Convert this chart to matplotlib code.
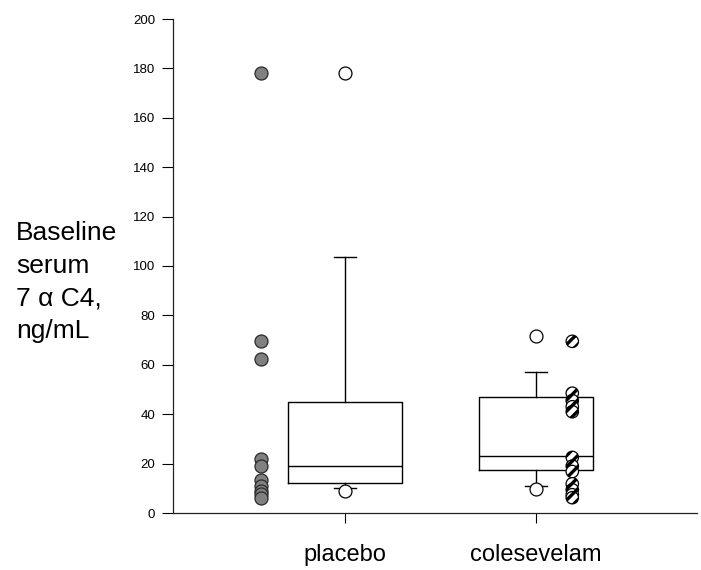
import matplotlib
matplotlib.use("Agg")
import matplotlib.pyplot as plt

plt.rcParams['font.family'] = ['Liberation Sans', 'DejaVu Sans']
plt.rcParams['hatch.linewidth'] = 2.4

categories = ["placebo", "colesevelam"]
yticks = [0, 20, 40, 60, 80, 100, 120, 140, 160, 180, 200]

# box statistics
box_q1 = [12, 17.3]
box_med = [19, 23]
box_q3 = [45, 47]
whisk_lo = [10.2, 11.1]
whisk_hi = [103.5, 57]
fliers = [[178, 9.0], [71.5, 9.8]]

# individual values
placebo_vals = [178, 69.5, 62.5, 21.7, 19.0, 13.4, 11.0, 9.0, 7.6, 6.0]
colesevelam_vals = [69.5, 48.5, 45.5, 43, 41, 22.5, 19.0, 16.8, 11.8, 9.4, 7.4, 6.2]

fig = plt.figure(figsize=(7.01, 5.70), dpi=100)
ax = fig.add_axes([173/701, 1-513/570, (697-173)/701, (513-19)/570])

pos = [1, 2]
stats = []
for i in range(2):
    stats.append(dict(med=box_med[i], q1=box_q1[i], q3=box_q3[i],
                      whislo=whisk_lo[i], whishi=whisk_hi[i], fliers=fliers[i]))
ax.bxp(stats, positions=pos, widths=0.6, showfliers=True, patch_artist=False,
       boxprops=dict(color='black', linewidth=1.0),
       medianprops=dict(color='black', linewidth=1.0),
       whiskerprops=dict(color='black', linewidth=1.0),
       capprops=dict(color='black', linewidth=1.0),
       capwidths=0.115,
       flierprops=dict(marker='o', markersize=9.3, markerfacecolor='white',
                       markeredgecolor='black', markeredgewidth=0.9))

ax.scatter([0.56]*len(placebo_vals), placebo_vals, s=88, facecolor='#808080',
           edgecolor='#2a2a2a', linewidth=0.9, zorder=3)
ax.scatter([2.19]*len(colesevelam_vals), colesevelam_vals, s=80, facecolor='white',
           edgecolor='black', hatch='///', linewidth=0.9, zorder=3)

ax.set_xlim(0.0995, 2.843)
ax.set_ylim(0, 200)
ax.set_yticks(yticks)
ax.set_yticklabels([str(t) for t in yticks])
ax.set_xticks(pos)
ax.set_xticklabels(categories, fontsize=17)
ax.tick_params(axis='y', direction='out', length=8, width=0.8, labelsize=9.5, pad=5)
ax.tick_params(axis='x', direction='out', length=7.5, width=0.8, pad=15)
for s in ['top', 'right']:
    ax.spines[s].set_visible(False)
for s in ['left', 'bottom']:
    ax.spines[s].set_linewidth(0.9)
    ax.spines[s].set_color('#222222')

fig.text(16/701, 1-221/570, "Baseline\nserum\n7 α C4,\nng/mL", fontsize=19,
         ha='left', va='top', linespacing=1.46)

fig.savefig("out.png", dpi=100)
